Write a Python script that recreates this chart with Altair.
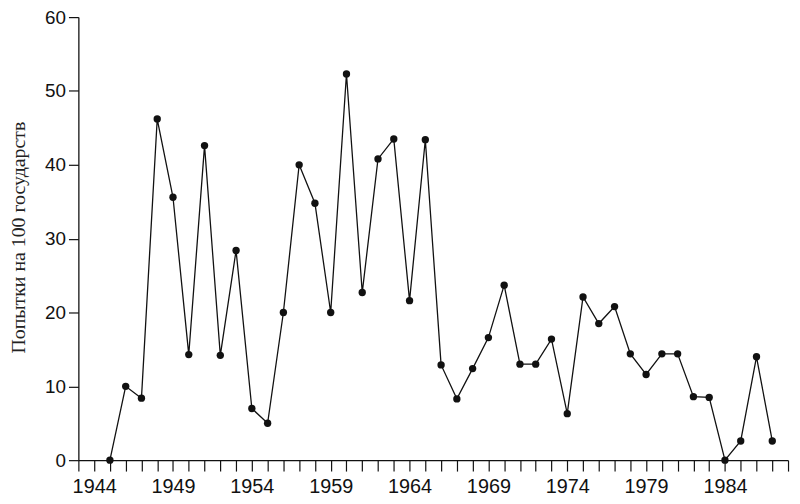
import altair as alt
import pandas as pd

years = list(range(1945, 1988))
values = [0, 10.0, 8.4, 46.2, 35.6, 14.3, 42.6, 14.2, 28.4, 7.0, 5.0,
          20.0, 40.0, 34.8, 20.0, 52.3, 22.7, 40.8, 43.5, 21.6, 43.4,
          12.9, 8.3, 12.4, 16.6, 23.7, 13.0, 13.0, 16.4, 6.3, 22.1,
          18.5, 20.8, 14.4, 11.6, 14.4, 14.4, 8.6, 8.5, 0, 2.6,
          14.0, 2.6]
x_ticks = list(range(1943, 1989))
y_ticks = [0, 10, 20, 30, 40, 50, 60]
y_title = "Попытки на 100 государств"

df = pd.DataFrame({"year": years, "value": values})

x_enc = alt.X("year:Q",
              scale=alt.Scale(domain=[1943, 1988], nice=False, zero=False),
              axis=alt.Axis(values=x_ticks, tickCount=200, format="d", title=None,
                            labelExpr="(datum.value - 1944) % 5 == 0 ? datum.label : ''",
                            labelOverlap=False, labelFlush=False, labelFontSize=20,
                            tickSize=11, labelPadding=6, grid=False))
y_enc = alt.Y("value:Q",
              scale=alt.Scale(domain=[0, 60], nice=False),
              axis=alt.Axis(values=y_ticks, title=y_title, grid=False,
                            tickSize=10, labelPadding=3, labelFontSize=19,
                            titleFont="Liberation Serif", titleFontSize=20,
                            titleFontWeight="normal", titleColor="#222",
                            titleAngle=270, titleX=-54, titleY=222,
                            titleAlign="center", titleBaseline="alphabetic"))

line = alt.Chart(df).mark_line(color="#111", strokeWidth=1.3).encode(x=x_enc, y=y_enc)
pts = alt.Chart(df).mark_circle(color="#111", opacity=1, size=55).encode(x="year:Q", y="value:Q")

chart = (line + pts).properties(
    width=716, height=447,
    padding={"left": 71, "top": 7, "right": 4, "bottom": 40},
    autosize=alt.AutoSizeParams(type="none"),
    background="white",
).configure_view(stroke=None).configure_axis(
    domainColor="#111", tickColor="#111", domainWidth=1.3, tickWidth=1.2,
    labelFont="Liberation Sans", labelColor="#111",
)

chart.save("out.html", embed_options={"renderer": "svg", "actions": False})
